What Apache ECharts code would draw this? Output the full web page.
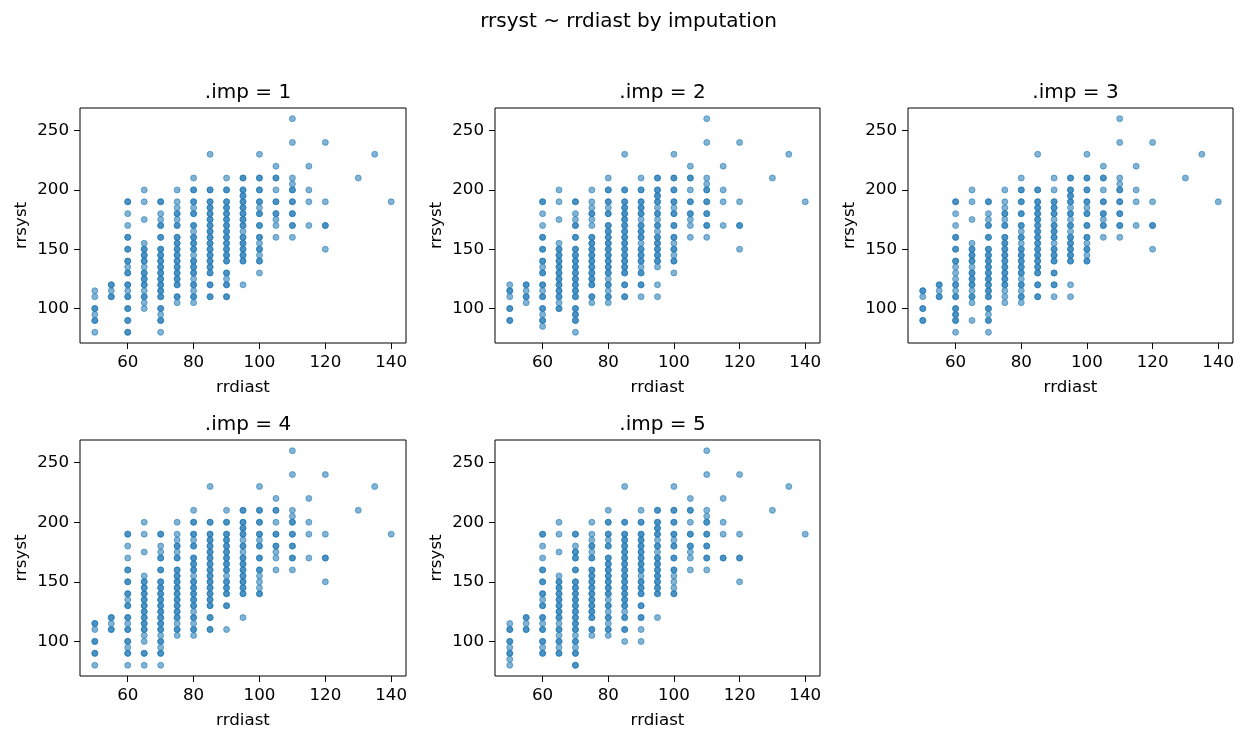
<!DOCTYPE html>
<html>
<head>
<meta charset="utf-8">
<script src="https://cdn.jsdelivr.net/npm/echarts@6/dist/echarts.min.js"></script>
<style>
  html, body { margin: 0; padding: 0; background: #fff; }
  #chart { width: 1247px; height: 740px; }
</style>
</head>
<body>
<div id="chart"></div>
<script>
// rrdiast column -> rrsyst values (repeated value = overlapping points)
const imp1 = [
  [50, [115, 110, 100, 100, 95, 90, 90, 80]],
  [55, [120, 120, 115, 110, 110]],
  [60, [190, 190, 180, 170, 160, 160, 150, 150, 140, 140, 135, 130, 130, 120, 120, 115, 110, 110, 100, 100, 90, 90, 80, 80]],
  [65, [200, 190, 175, 155, 150, 150, 145, 145, 140, 140, 135, 130, 130, 125, 125, 120, 120, 115, 110, 110, 105, 100]],
  [70, [190, 190, 180, 175, 170, 170, 160, 160, 150, 150, 145, 145, 140, 140, 135, 135, 130, 130, 125, 125, 120, 120, 115, 115, 110, 110, 100, 100, 95, 90, 90, 80]],
  [75, [200, 190, 185, 180, 180, 175, 170, 170, 160, 160, 155, 155, 150, 150, 145, 145, 140, 140, 135, 135, 130, 130, 125, 125, 120, 120, 110, 110, 105]],
  [80, [210, 200, 200, 190, 190, 185, 180, 180, 170, 170, 165, 160, 160, 155, 155, 150, 150, 145, 140, 140, 135, 135, 130, 130, 125, 120, 120, 115, 110, 110, 105]],
  [85, [230, 200, 200, 190, 190, 185, 185, 180, 180, 175, 175, 170, 170, 165, 165, 160, 160, 155, 155, 150, 150, 145, 145, 140, 140, 135, 135, 130, 130, 120, 120, 110, 110]],
  [90, [210, 200, 200, 190, 190, 185, 185, 180, 180, 175, 175, 170, 170, 165, 165, 160, 160, 155, 155, 150, 150, 145, 145, 140, 140, 130, 130, 125, 120, 120, 110, 110]],
  [95, [210, 210, 200, 200, 195, 195, 190, 190, 185, 185, 180, 180, 175, 175, 170, 170, 165, 160, 160, 155, 155, 150, 150, 145, 145, 140, 140, 120]],
  [100, [230, 210, 210, 200, 200, 190, 190, 185, 180, 180, 170, 170, 160, 160, 155, 150, 150, 145, 140, 140, 130]],
  [105, [220, 210, 210, 200, 190, 190, 180, 180, 175, 170, 160]],
  [110, [260, 240, 210, 205, 200, 200, 190, 190, 180, 180, 170, 170, 160]],
  [115, [220, 200, 190, 170]],
  [120, [240, 190, 170, 170, 150]],
  [130, [210]],
  [135, [230]],
  [140, [190]]
];

const imp2 = [
  [50, [120, 115, 115, 110, 100, 100, 90, 90]],
  [55, [120, 120, 115, 110, 110, 105]],
  [60, [190, 190, 180, 170, 160, 160, 150, 150, 140, 140, 135, 130, 130, 120, 120, 115, 110, 110, 100, 100, 95, 90, 90, 85]],
  [65, [200, 190, 175, 155, 150, 150, 145, 145, 140, 140, 135, 135, 130, 130, 125, 125, 120, 120, 115, 115, 110, 110, 105, 100, 100]],
  [70, [190, 190, 180, 175, 170, 170, 160, 160, 150, 150, 145, 145, 140, 140, 135, 135, 130, 130, 125, 125, 120, 120, 115, 115, 110, 110, 100, 100, 95, 95, 90, 90, 80]],
  [75, [200, 190, 185, 180, 180, 175, 170, 160, 160, 155, 155, 150, 150, 145, 145, 140, 140, 135, 135, 130, 130, 125, 125, 120, 120, 110, 110, 105]],
  [80, [210, 200, 200, 190, 190, 185, 180, 180, 170, 170, 165, 165, 160, 160, 155, 155, 150, 150, 145, 145, 140, 140, 135, 135, 130, 130, 125, 120, 120, 115, 110, 110, 105]],
  [85, [230, 200, 200, 190, 190, 185, 185, 180, 180, 175, 175, 170, 170, 165, 165, 160, 160, 155, 155, 150, 150, 145, 145, 140, 140, 135, 135, 130, 130, 120, 120, 110, 110]],
  [90, [210, 200, 200, 190, 190, 185, 185, 180, 180, 175, 170, 170, 165, 165, 160, 160, 155, 150, 150, 145, 145, 140, 140, 135, 130, 130, 120, 120, 110]],
  [95, [210, 210, 200, 200, 195, 195, 190, 190, 185, 180, 180, 175, 170, 170, 165, 160, 160, 155, 155, 150, 150, 145, 145, 140, 140, 135, 120, 110]],
  [100, [230, 210, 210, 200, 200, 190, 190, 185, 180, 180, 170, 170, 160, 160, 155, 150, 150, 145, 140, 140, 130]],
  [105, [220, 210, 210, 200, 190, 190, 180, 180, 175, 170, 160]],
  [110, [260, 240, 210, 205, 200, 200, 190, 190, 180, 180, 170, 170, 160]],
  [115, [220, 200, 190, 170]],
  [120, [240, 190, 170, 170, 150]],
  [130, [210]],
  [135, [230]],
  [140, [190]]
];

const imp3 = [
  [50, [115, 115, 110, 100, 100, 90, 90]],
  [55, [120, 120, 115, 110, 110]],
  [60, [190, 190, 180, 170, 160, 160, 150, 150, 140, 140, 135, 130, 125, 120, 120, 115, 110, 110, 100, 100, 95, 95, 90, 90, 80]],
  [65, [200, 190, 175, 155, 150, 150, 145, 145, 140, 140, 135, 130, 130, 125, 125, 120, 120, 115, 110, 110, 105, 90]],
  [70, [190, 190, 180, 175, 170, 170, 160, 160, 150, 150, 145, 145, 140, 140, 135, 135, 130, 130, 125, 125, 120, 120, 115, 115, 110, 110, 100, 100, 95, 90, 90, 80]],
  [75, [200, 190, 185, 180, 180, 175, 170, 170, 160, 160, 155, 155, 150, 150, 145, 145, 140, 140, 135, 135, 130, 130, 125, 125, 120, 120, 115, 110, 105]],
  [80, [210, 200, 200, 190, 190, 180, 180, 170, 170, 165, 160, 160, 155, 150, 150, 145, 145, 140, 140, 135, 135, 130, 130, 125, 120, 120, 115, 110, 110, 105]],
  [85, [230, 200, 200, 190, 190, 185, 185, 180, 180, 175, 175, 170, 170, 165, 165, 160, 160, 155, 155, 150, 150, 145, 145, 140, 140, 135, 135, 130, 130, 120, 120, 110, 110]],
  [90, [210, 200, 190, 190, 185, 185, 180, 180, 175, 170, 170, 165, 165, 160, 160, 155, 150, 150, 145, 145, 140, 140, 130, 130, 120, 120, 110]],
  [95, [210, 210, 200, 200, 195, 195, 190, 190, 185, 180, 180, 175, 170, 170, 165, 160, 160, 155, 155, 150, 150, 145, 145, 140, 140, 120, 110]],
  [100, [230, 210, 210, 200, 200, 190, 190, 185, 180, 180, 170, 170, 160, 160, 155, 150, 150, 145, 140, 140]],
  [105, [220, 210, 210, 200, 190, 190, 180, 180, 175, 170, 170, 160]],
  [110, [260, 240, 210, 205, 200, 200, 190, 190, 180, 180, 170, 170, 160]],
  [115, [220, 200, 190, 170]],
  [120, [240, 190, 170, 170, 150]],
  [130, [210]],
  [135, [230]],
  [140, [190]]
];

const imp4 = [
  [50, [115, 115, 110, 100, 100, 90, 90, 80]],
  [55, [120, 120, 115, 110, 110]],
  [60, [190, 190, 180, 170, 160, 160, 150, 150, 140, 140, 135, 130, 130, 120, 120, 115, 110, 110, 100, 100, 95, 90, 90, 80]],
  [65, [200, 190, 175, 155, 150, 150, 145, 145, 140, 140, 135, 135, 130, 130, 125, 125, 120, 120, 115, 115, 110, 110, 105, 100, 90, 90, 80]],
  [70, [190, 190, 180, 175, 170, 170, 160, 160, 150, 150, 145, 145, 140, 140, 135, 135, 130, 130, 125, 125, 120, 120, 115, 115, 110, 110, 105, 100, 100, 95, 90, 90, 80]],
  [75, [200, 190, 185, 180, 180, 175, 170, 170, 160, 160, 155, 155, 150, 150, 145, 145, 140, 140, 135, 135, 130, 130, 125, 125, 120, 120, 115, 110, 110, 105]],
  [80, [210, 200, 200, 190, 190, 185, 180, 180, 170, 170, 165, 165, 160, 160, 155, 150, 150, 145, 145, 140, 140, 135, 135, 130, 130, 125, 120, 120, 115, 110, 110, 105]],
  [85, [230, 200, 200, 190, 190, 185, 185, 180, 180, 175, 175, 170, 170, 165, 165, 160, 160, 155, 155, 150, 150, 145, 145, 140, 140, 135, 135, 130, 130, 120, 120, 110, 110]],
  [90, [210, 200, 200, 190, 190, 185, 185, 180, 180, 175, 175, 170, 170, 165, 165, 160, 160, 155, 150, 150, 145, 145, 140, 140, 130, 130, 110]],
  [95, [210, 210, 200, 200, 195, 195, 190, 190, 185, 180, 180, 175, 170, 170, 165, 165, 160, 160, 155, 155, 150, 150, 145, 145, 140, 140, 120]],
  [100, [230, 210, 210, 200, 200, 190, 190, 185, 180, 180, 170, 170, 160, 160, 155, 150, 145, 140, 140]],
  [105, [220, 210, 210, 200, 190, 190, 180, 180, 175, 170, 160]],
  [110, [260, 240, 210, 205, 200, 200, 190, 190, 180, 180, 170, 170, 160]],
  [115, [220, 200, 190, 170]],
  [120, [240, 190, 170, 170, 150]],
  [130, [210]],
  [135, [230]],
  [140, [190]]
];

const imp5 = [
  [50, [115, 110, 110, 100, 100, 95, 90, 90, 85, 80]],
  [55, [120, 120, 115, 110, 110]],
  [60, [190, 190, 180, 170, 160, 160, 150, 150, 140, 140, 135, 130, 130, 120, 120, 115, 110, 110, 100, 100, 95, 90, 90]],
  [65, [200, 190, 175, 155, 150, 150, 145, 145, 140, 140, 135, 135, 130, 130, 125, 125, 120, 120, 115, 110, 110, 105, 100, 100, 95, 90, 90]],
  [70, [190, 190, 180, 175, 175, 170, 170, 160, 160, 150, 150, 145, 145, 140, 140, 135, 135, 130, 130, 125, 125, 120, 120, 115, 115, 110, 110, 105, 100, 100, 95, 90, 90, 80, 80]],
  [75, [200, 190, 185, 180, 180, 175, 170, 170, 160, 160, 155, 155, 150, 150, 145, 145, 140, 140, 135, 135, 130, 130, 125, 125, 120, 120, 110, 110, 105]],
  [80, [210, 200, 200, 190, 190, 185, 180, 180, 170, 170, 165, 165, 160, 160, 155, 155, 150, 150, 145, 145, 140, 140, 135, 130, 130, 125, 120, 120, 115, 110, 110, 105]],
  [85, [230, 200, 200, 190, 190, 185, 185, 180, 180, 175, 175, 170, 170, 165, 165, 160, 160, 155, 155, 150, 150, 145, 145, 140, 140, 135, 135, 130, 130, 125, 120, 120, 110, 110, 100]],
  [90, [210, 200, 200, 190, 190, 185, 185, 180, 180, 175, 175, 170, 170, 165, 165, 160, 160, 155, 150, 150, 145, 145, 140, 140, 130, 130, 120, 120, 110, 100]],
  [95, [210, 210, 200, 200, 195, 195, 190, 190, 185, 180, 180, 175, 170, 170, 165, 165, 160, 160, 155, 155, 150, 150, 145, 145, 140, 140, 120]],
  [100, [230, 210, 210, 200, 200, 190, 190, 185, 180, 180, 170, 170, 160, 160, 155, 150, 145, 140, 140]],
  [105, [220, 210, 210, 200, 190, 190, 180, 180, 175, 170, 160]],
  [110, [260, 240, 210, 205, 200, 200, 190, 190, 180, 180, 170, 170, 160]],
  [115, [220, 200, 190, 170, 170]],
  [120, [240, 190, 170, 170, 150]],
  [130, [210]],
  [135, [230]],
  [140, [190]]
];

const imputations = [imp1, imp2, imp3, imp4, imp5];
const panelTitles = ['.imp = 1', '.imp = 2', '.imp = 3', '.imp = 4', '.imp = 5'];
const xTicks = [60, 80, 100, 120, 140];
const yTicks = [100, 150, 200, 250];

const font = 'DejaVu Sans';

// plot area boxes (left, top, width, height)
const boxes = [
  [80, 108, 326, 235],
  [495, 108, 325, 235],
  [908, 108, 325, 235],
  [80, 440, 326, 236],
  [495, 440, 325, 236]
];

const toPoints = (imp) => {
  const pts = [];
  imp.forEach(([x, ys]) => ys.forEach(y => pts.push([x, y])));
  return pts;
};

const chart = echarts.init(document.getElementById('chart'), null, { renderer: 'canvas' });

const titles = [{
  text: 'rrsyst ~ rrdiast by imputation',
  left: 623.5,
  top: 7,
  textAlign: 'center',
  textStyle: { fontFamily: font, fontSize: 20, fontWeight: 'normal', color: '#000' }
}];
boxes.forEach((b, i) => {
  titles.push({
    text: panelTitles[i],
    left: b[0] + b[2] / 2,
    top: b[1] - 30,
    textAlign: 'center',
    textStyle: { fontFamily: font, fontSize: 20, fontWeight: 'normal', color: '#000' }
  });
});

const options = {
  backgroundColor: '#fff',
  animation: false,
  title: titles,
  grid: boxes.map(b => ({
    left: b[0], top: b[1], width: b[2], height: b[3],
    show: true,
    borderColor: '#000',
    borderWidth: 1,
    backgroundColor: 'transparent'
  })),
  xAxis: boxes.map((b, i) => ({
    type: 'value',
    gridIndex: i,
    min: 45.5,
    max: 144.5,
    name: 'rrdiast',
    nameLocation: 'middle',
    nameGap: 36,
    nameTextStyle: { fontFamily: font, fontSize: 16.7, color: '#000' },
    axisLine: { show: false },
    splitLine: { show: false },
    axisTick: { show: true, length: 6, lineStyle: { color: '#000', width: 1 }, customValues: xTicks },
    axisLabel: { fontFamily: font, fontSize: 16.7, color: '#000', margin: 11, customValues: xTicks }
  })),
  yAxis: boxes.map((b, i) => ({
    type: 'value',
    gridIndex: i,
    min: 71,
    max: 269,
    name: 'rrsyst',
    nameLocation: 'middle',
    nameGap: 50,
    nameTextStyle: { fontFamily: font, fontSize: 16.7, color: '#000' },
    axisLine: { show: false },
    splitLine: { show: false },
    axisTick: { show: true, length: 6, lineStyle: { color: '#000', width: 1 }, customValues: yTicks },
    axisLabel: { fontFamily: font, fontSize: 16.7, color: '#000', margin: 11, customValues: yTicks }
  })),
  series: imputations.map((imp, i) => ({
    type: 'scatter',
    xAxisIndex: i,
    yAxisIndex: i,
    symbol: 'circle',
    symbolSize: 6,
    data: toPoints(imp),
    itemStyle: {
      color: 'rgba(31,119,180,0.7)',
      borderColor: 'rgba(31,119,180,0.7)',
      borderWidth: 1
    },
    emphasis: { disabled: true }
  }))
};

chart.setOption(options);
</script>
</body>
</html>
